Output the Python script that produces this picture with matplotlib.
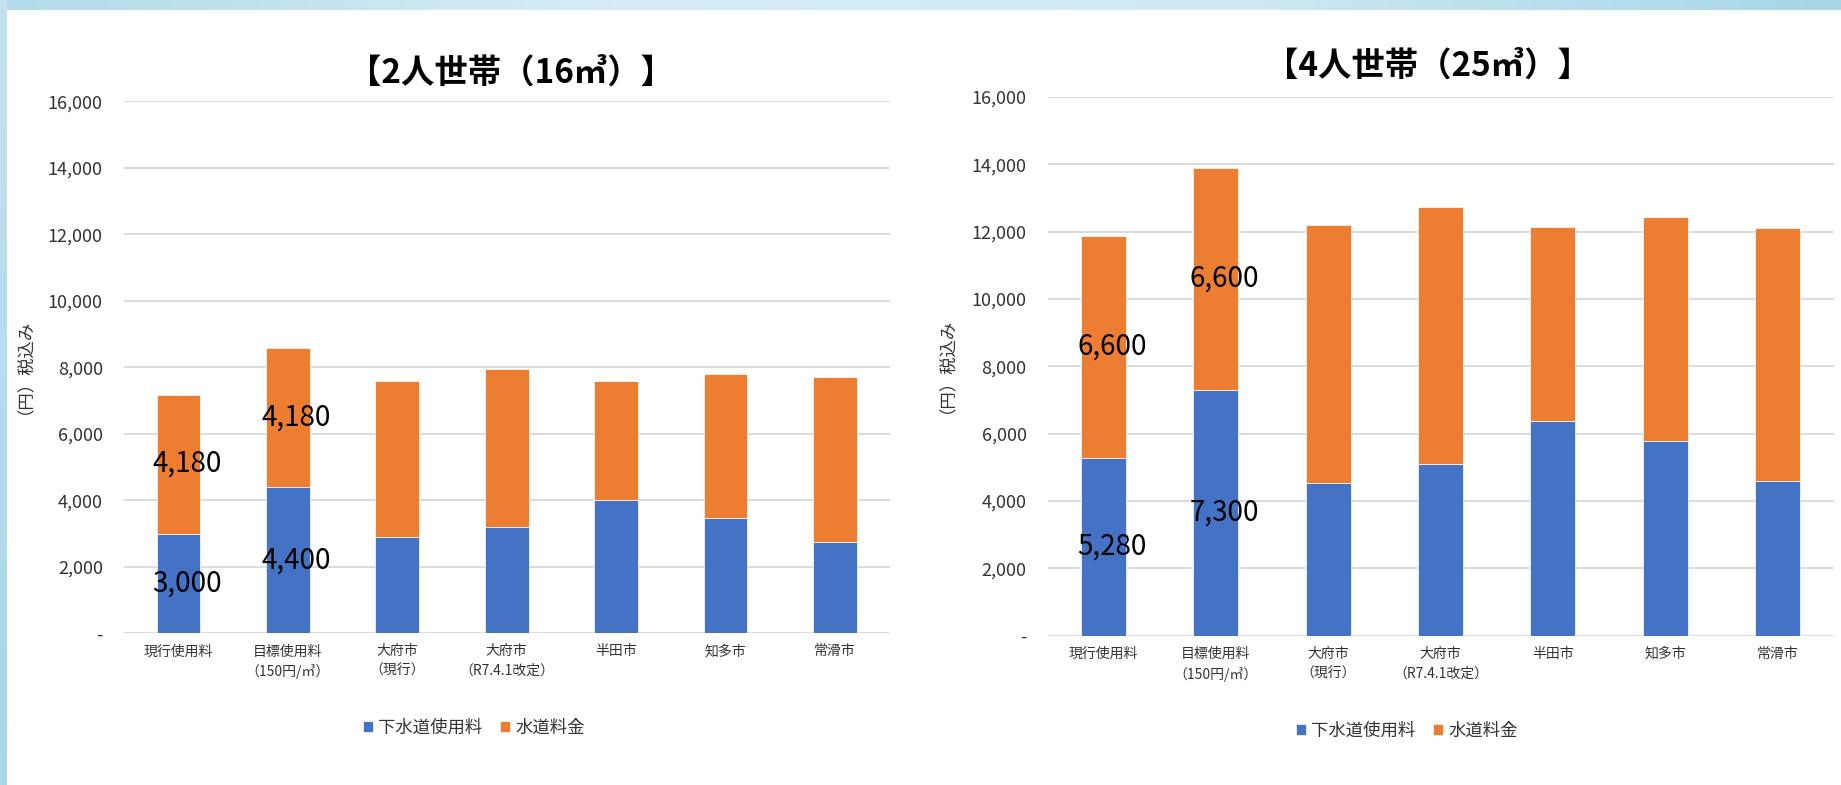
import numpy as np
import matplotlib
matplotlib.use('Agg')
import matplotlib.pyplot as plt
from matplotlib.colors import LinearSegmentedColormap

plt.rcParams['font.family'] = ['Noto Sans CJK JP', 'DejaVu Sans']

# --- data (円, 税込み)
categories = ['現行使用料', '目標使用料\n（150円/㎥）', '大府市\n（現行）', '大府市\n（R7.4.1改定）',
              '半田市', '知多市', '常滑市']
series_names = ['下水道使用料', '水道料金']

sewer_2p = [3000, 4400, 2890, 3210, 4010, 3460, 2760]
water_2p = [4180, 4180, 4700, 4730, 3590, 4330, 4960]
sewer_4p = [5280, 7300, 4550, 5090, 6390, 5790, 4600]
water_4p = [6600, 6600, 7650, 7650, 5740, 6650, 7500]

title_2p = '【2人世帯（16㎥）】'
title_4p = '【4人世帯（25㎥）】'
ylabel = '（円）税込み'
yticks = [0, 2000, 4000, 6000, 8000, 10000, 12000, 14000, 16000]
n_labeled = 2   # value labels only on the first two bars

BLUE, ORANGE = '#4472C4', '#ED7D31'
GRID = '#d9d9d9'
TXT = '#333333'

W, H = 1841, 785
fig = plt.figure(figsize=(W/100, H/100), dpi=100)
fig.patch.set_facecolor('white')

# light-blue slide frame along top and left edge
cm = LinearSegmentedColormap.from_list('frame', ['#b3dbe9', '#d6edf5', '#cfe9f3', '#a7d6e7'])
top = fig.add_axes([0, 1-10/H, 1, 10/H]); top.axis('off')
top.imshow(np.linspace(0, 1, 256)[None, :], aspect='auto', cmap=cm, extent=[0, 1, 0, 1])
side = fig.add_axes([0, 0, 7/W, 1]); side.axis('off')
side.imshow(np.linspace(0, 1, 64)[:, None], aspect='auto',
            cmap=LinearSegmentedColormap.from_list('s', ['#c4e2ee', '#a9d6e7']), extent=[0, 1, 0, 1])


def panel(rect, sewer, water, title, title_xy):
    ax = fig.add_axes(rect)
    x = np.arange(len(categories))
    ax.bar(x, sewer, 0.4, color=BLUE, edgecolor='white', linewidth=0.5, zorder=3,
           label=series_names[0])
    ax.bar(x, water, 0.4, bottom=sewer, color=ORANGE, edgecolor='white', linewidth=0.5,
           zorder=3, label=series_names[1])
    for i in range(n_labeled):
        for v, base in ((sewer[i], 0), (water[i], sewer[i])):
            ax.annotate(f'{v:,}', (x[i], base + v/2), xytext=(6, 0), textcoords='offset points',
                        ha='center', va='center', fontsize=20, color='black', zorder=5)
    ax.set_xlim(-0.5, len(categories)-0.5)
    ax.set_ylim(0, 16000)
    ax.set_yticks(yticks)
    ax.set_yticklabels(['-' if t == 0 else f'{t:,}' for t in yticks])
    ax.set_xticks(x)
    ax.set_xticklabels(categories, fontsize=10, color=TXT, linespacing=1.5, va='top')
    ax.tick_params(axis='y', length=0, pad=15, labelsize=13, labelcolor=TXT)
    ax.tick_params(axis='x', length=0, pad=8)
    ax.grid(axis='y', color=GRID, lw=1.3, zorder=0)
    for s in ax.spines.values():
        s.set_visible(False)
    ax.set_ylabel(ylabel, fontsize=12.5, color=TXT)
    ax.yaxis.set_label_coords(-0.128, 0.51)
    ax.legend(loc='center', bbox_to_anchor=(0.457, -0.177), ncol=2, frameon=False, fontsize=12.5,
              handlelength=0.6, handleheight=0.6, handletextpad=0.3, columnspacing=1.0,
              labelcolor=TXT)
    fig.text(title_xy[0], title_xy[1], title, ha='center', va='center', fontsize=24,
             fontweight='bold', color='black')
    return ax


panel([123.7/W, 151.7/H, 766/W, 532/H], sewer_2p, water_2p, title_2p, (511/W, 1-73/H))
panel([1047.5/W, 149.3/H, 786/W, 538.7/H], sewer_4p, water_4p, title_4p, (1428/W, 1-66/H))

fig.savefig('out.png', dpi=100)
